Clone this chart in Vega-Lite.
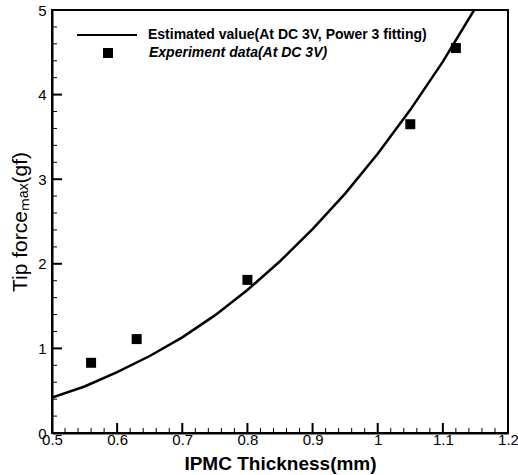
{
  "$schema": "https://vega.github.io/schema/vega-lite/v6.json",
  "width": 456,
  "height": 423,
  "autosize": {"type": "none"},
  "padding": {"left": 52, "top": 10, "right": 10, "bottom": 42},
  "background": "white",
  "config": {
    "view": {"stroke": "black", "strokeWidth": 2},
    "font": "Liberation Sans",
    "axis": {"grid": false, "domainColor": "black", "domainWidth": 2, "tickColor": "black", "labelColor": "black", "titleColor": "black", "labelFont": "Liberation Sans", "titleFont": "Liberation Sans"}
  },
  "datasets": {
    "curve": [
      {"thickness": 0.5, "force": 0.42, "fit": "Estimated value(At DC 3V, Power 3 fitting)"},
      {"thickness": 0.55, "force": 0.55, "fit": "Estimated value(At DC 3V, Power 3 fitting)"},
      {"thickness": 0.6, "force": 0.72, "fit": "Estimated value(At DC 3V, Power 3 fitting)"},
      {"thickness": 0.65, "force": 0.91, "fit": "Estimated value(At DC 3V, Power 3 fitting)"},
      {"thickness": 0.7, "force": 1.13, "fit": "Estimated value(At DC 3V, Power 3 fitting)"},
      {"thickness": 0.75, "force": 1.39, "fit": "Estimated value(At DC 3V, Power 3 fitting)"},
      {"thickness": 0.8, "force": 1.69, "fit": "Estimated value(At DC 3V, Power 3 fitting)"},
      {"thickness": 0.85, "force": 2.03, "fit": "Estimated value(At DC 3V, Power 3 fitting)"},
      {"thickness": 0.9, "force": 2.41, "fit": "Estimated value(At DC 3V, Power 3 fitting)"},
      {"thickness": 0.95, "force": 2.83, "fit": "Estimated value(At DC 3V, Power 3 fitting)"},
      {"thickness": 1.0, "force": 3.3, "fit": "Estimated value(At DC 3V, Power 3 fitting)"},
      {"thickness": 1.05, "force": 3.82, "fit": "Estimated value(At DC 3V, Power 3 fitting)"},
      {"thickness": 1.1, "force": 4.39, "fit": "Estimated value(At DC 3V, Power 3 fitting)"},
      {"thickness": 1.148, "force": 5.0, "fit": "Estimated value(At DC 3V, Power 3 fitting)"}
    ],
    "experiment": [
      {"thickness": 0.56, "force": 0.83, "exp": "Experiment data(At DC 3V)"},
      {"thickness": 0.63, "force": 1.11, "exp": "Experiment data(At DC 3V)"},
      {"thickness": 0.8, "force": 1.81, "exp": "Experiment data(At DC 3V)"},
      {"thickness": 1.05, "force": 3.65, "exp": "Experiment data(At DC 3V)"},
      {"thickness": 1.12, "force": 4.55, "exp": "Experiment data(At DC 3V)"}
    ],
    "xmajor": [{"thickness": 0.6}, {"thickness": 0.7}, {"thickness": 0.8}, {"thickness": 0.9}, {"thickness": 1.0}, {"thickness": 1.1}],
    "xminor": [{"thickness": 0.52}, {"thickness": 0.54}, {"thickness": 0.56}, {"thickness": 0.58}, {"thickness": 0.62}, {"thickness": 0.64}, {"thickness": 0.66}, {"thickness": 0.68}, {"thickness": 0.72}, {"thickness": 0.74}, {"thickness": 0.76}, {"thickness": 0.78}, {"thickness": 0.82}, {"thickness": 0.84}, {"thickness": 0.86}, {"thickness": 0.88}, {"thickness": 0.92}, {"thickness": 0.94}, {"thickness": 0.96}, {"thickness": 0.98}, {"thickness": 1.02}, {"thickness": 1.04}, {"thickness": 1.06}, {"thickness": 1.08}, {"thickness": 1.12}, {"thickness": 1.14}, {"thickness": 1.16}, {"thickness": 1.18}],
    "ymajor": [{"force": 1}, {"force": 2}, {"force": 3}, {"force": 4}],
    "yminor": [{"force": 0.2}, {"force": 0.4}, {"force": 0.6}, {"force": 0.8}, {"force": 1.2}, {"force": 1.4}, {"force": 1.6}, {"force": 1.8}, {"force": 2.2}, {"force": 2.4}, {"force": 2.6}, {"force": 2.8}, {"force": 3.2}, {"force": 3.4}, {"force": 3.6}, {"force": 3.8}, {"force": 4.2}, {"force": 4.4}, {"force": 4.6}, {"force": 4.8}]
  },
  "layer": [
    {
      "data": {"name": "curve"},
      "mark": {"type": "line", "strokeWidth": 2.5, "clip": true},
      "encoding": {
        "x": {
          "field": "thickness", "type": "quantitative",
          "scale": {"domain": [0.5, 1.2], "nice": false, "zero": false},
          "axis": {
            "orient": "bottom", "ticks": false,
            "title": "IPMC Thickness(mm)",
            "titleFontSize": 19, "titleFontWeight": "bold", "titleY": 30, "titleBaseline": "middle",
            "labelFontSize": 15, "labelPadding": -1, "labelFlush": false, "labelOverlap": false,
            "values": [0.5,0.6,0.7,0.8,0.9,1.0,1.1,1.2],
            "labelExpr": "format(datum.value, '~g')"
          }
        },
        "y": {
          "field": "force", "type": "quantitative",
          "scale": {"domain": [0, 5], "nice": false, "zero": false},
          "axis": {
            "orient": "left", "ticks": false,
            "title": "Tip forceₘₐₓ(gf)",
            "titleFontSize": 21, "titleFontWeight": "normal", "titleX": -32, "titleBaseline": "middle",
            "labelFontSize": 15, "labelPadding": 6, "labelFlush": false, "labelOverlap": false,
            "values": [0,1,2,3,4,5],
            "labelExpr": "format(datum.value, '~g')"
          }
        },
        "color": {
          "field": "fit", "type": "nominal",
          "scale": {"range": ["black"]},
          "legend": {
            "orient": "none", "legendX": 24, "legendY": -6, "title": null, "padding": 0,
            "symbolType": "stroke", "symbolSize": 3600, "symbolStrokeWidth": 2, "symbolStrokeColor": "black",
            "labelOffset": 10, "labelFontSize": 14, "labelFontWeight": "bold", "labelFont": "Liberation Sans", "labelColor": "black", "labelLimit": 400
          }
        }
      }
    },
    {
      "data": {"name": "experiment"},
      "mark": {"type": "point", "filled": true, "color": "black", "size": 100, "opacity": 1},
      "encoding": {
        "x": {"field": "thickness", "type": "quantitative", "scale": {"domain": [0.5, 1.2], "nice": false, "zero": false}},
        "y": {"field": "force", "type": "quantitative", "scale": {"domain": [0, 5], "nice": false, "zero": false}},
        "shape": {
          "field": "exp", "type": "nominal",
          "scale": {"range": ["square"]},
          "legend": {
            "orient": "none", "legendX": 49, "legendY": 36, "title": null, "padding": 0,
            "symbolSize": 100, "symbolFillColor": "black", "symbolStrokeColor": "black", "symbolOpacity": 1,
            "labelOffset": 34, "labelFontSize": 14, "labelFontWeight": "bold", "labelFontStyle": "italic", "labelFont": "Liberation Sans", "labelColor": "black", "labelLimit": 400
          }
        }
      }
    },
    {
      "data": {"name": "xmajor"},
      "mark": {"type": "rule", "color": "black", "strokeWidth": 2},
      "encoding": {
        "x": {"field": "thickness", "type": "quantitative", "scale": {"domain": [0.5, 1.2], "nice": false, "zero": false}},
        "y": {"datum": 0},
        "y2": {"datum": 0.118}
      }
    },
    {
      "data": {"name": "xminor"},
      "mark": {"type": "rule", "color": "black", "strokeWidth": 1},
      "encoding": {
        "x": {"field": "thickness", "type": "quantitative", "scale": {"domain": [0.5, 1.2], "nice": false, "zero": false}},
        "y": {"datum": 0},
        "y2": {"datum": 0.059}
      }
    },
    {
      "data": {"name": "ymajor"},
      "mark": {"type": "rule", "color": "black", "strokeWidth": 2},
      "encoding": {
        "y": {"field": "force", "type": "quantitative", "scale": {"domain": [0, 5], "nice": false, "zero": false}},
        "x": {"datum": 0.5},
        "x2": {"datum": 0.5154}
      }
    },
    {
      "data": {"name": "yminor"},
      "mark": {"type": "rule", "color": "black", "strokeWidth": 1},
      "encoding": {
        "y": {"field": "force", "type": "quantitative", "scale": {"domain": [0, 5], "nice": false, "zero": false}},
        "x": {"datum": 0.5},
        "x2": {"datum": 0.5077}
      }
    }
  ]
}
